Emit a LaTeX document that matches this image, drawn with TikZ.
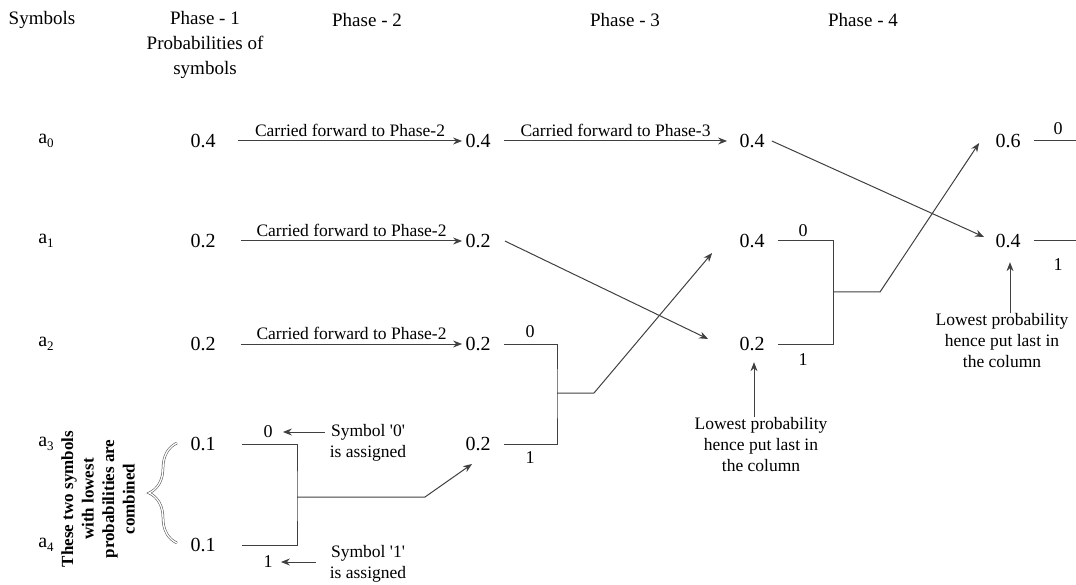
\documentclass[tikz,border=0pt]{standalone}
\usepackage{fontspec}
\setmainfont{Liberation Serif}
\usetikzlibrary{arrows.meta,decorations.pathreplacing}

\tikzset{every picture/.style={line width=0.75pt}}
\tikzset{
  prob/.style={font=\fontsize{20}{24}\selectfont, inner sep=1pt},
  head/.style={font=\fontsize{19}{25}\selectfont, align=center, inner sep=0pt},
  note/.style={font=\fontsize{17.5}{21}\selectfont, align=center, inner sep=0pt},
  bit/.style={font=\fontsize{18}{20}\selectfont, inner sep=0pt},
  wire/.style={draw=black!75, line width=1pt},
  arr/.style={wire, -{Stealth[length=9pt,width=7pt]}},
}
\newcommand{\asym}[1]{a\raisebox{-0.5ex}{\fontsize{13}{13}\selectfont #1}}

\begin{document}
\begin{tikzpicture}[x=1pt,y=1pt,yscale=-1,xscale=1]
\useasboundingbox (0,0) rectangle (1076,585);

% Text Node: headers
\node[head] (hsym) at (42,20) {Symbols};
\node[head] (hph1) at (205,45) {Phase - 1\\Probabilities of\\symbols};
\node[head] (hph2) at (367,20) {Phase - 2};
\node[head] (hph3) at (625,20) {Phase - 3};
\node[head] (hph4) at (863,20) {Phase - 4};

% Text Node: symbols
\node[prob] (a0) at (46,141) {\asym{0}};
\node[prob] (a1) at (46,241) {\asym{1}};
\node[prob] (a2) at (46,344) {\asym{2}};
\node[prob] (a3) at (46,444) {\asym{3}};
\node[prob] (a4) at (46,545) {\asym{4}};

% Text Node: phase 1
\node[prob] (p1a) at (203,141) {0.4};
\node[prob] (p1b) at (203,241) {0.2};
\node[prob] (p1c) at (203,344) {0.2};
\node[prob] (p1d) at (203,444) {0.1};
\node[prob] (p1e) at (203,545) {0.1};
% Text Node: phase 2
\node[prob] (p2a) at (478,141) {0.4};
\node[prob] (p2b) at (478,241) {0.2};
\node[prob] (p2c) at (478,344) {0.2};
\node[prob] (p2d) at (478,444) {0.2};
% Text Node: phase 3
\node[prob] (p3a) at (752,141) {0.4};
\node[prob] (p3b) at (752,241) {0.4};
\node[prob] (p3c) at (752,344) {0.2};
% Text Node: phase 4
\node[prob] (p4a) at (1008,141) {0.6};
\node[prob] (p4b) at (1008,241) {0.4};

% Straight Lines: carried forward
\draw[arr] ([xshift=21pt]p1a.east) -- ([xshift=-2pt]p2a.west)
  node[midway, above=4pt, note] {Carried forward to Phase-2};
\draw[arr] ([xshift=24pt]p1b.east) -- ([xshift=-2pt]p2b.west)
  node[midway, above=4pt, note] {Carried forward to Phase-2};
\draw[arr] ([xshift=24pt]p1c.east) -- ([xshift=-2pt]p2c.west)
  node[midway, above=4pt, note] {Carried forward to Phase-2};
\draw[arr] ([xshift=12pt]p2a.east) -- ([xshift=-11pt]p3a.west)
  node[midway, above=4pt, note] {Carried forward to Phase-3};
\draw[arr] ([xshift=13pt]p2b.east) -- ([shift={(-30,-5)}]p3c.west);
\draw[arr] ([xshift=6pt]p3a.east) -- ([shift={(-10,-4)}]p4b.west);

% Shape: phase 1 merge
\coordinate (m1) at (297,497);
\coordinate (k1) at (425,497);
\draw[wire] ([xshift=25pt]p1d.east) -| (m1) |- ([xshift=25pt]p1e.east);
\draw[arr] (m1) -- (k1) -- ([shift={(-6,20)}]p2d.center);
\node[bit] (b1t) at (268,432) {0};
\node[bit] (b1b) at (268,562) {1};
\node[note] (n0) at (368,443) {Symbol \textquotesingle 0\textquotesingle\\is assigned};
\node[note] (n1) at (368,564) {Symbol \textquotesingle 1\textquotesingle\\is assigned};
\draw[arr] ([xshift=52pt]b1t.east) -- ([xshift=10pt]b1t.east);
\draw[arr] ([xshift=43pt]b1b.east) -- ([xshift=8pt]b1b.east);

% Brace and its text
\draw[draw=black!75, line width=0.5pt, double, double distance=1.4pt,
  decorate, decoration={brace, amplitude=28pt}] (177,543) -- (177,443);
\node[font=\bfseries\fontsize{17}{20.5}\selectfont, align=center, rotate=90, inner sep=0pt]
  (comb) at (98,499) {These two symbols\\with lowest\\probabilities are\\combined};

% Shape: phase 2 merge
\coordinate (m2) at (557,393);
\coordinate (k2) at (594,393);
\draw[wire] ([xshift=12pt]p2c.east) -| (m2) |- ([xshift=12pt]p2d.east);
\draw[arr] (m2) -- (k2) -- ([shift={(-26,12)}]p3b.west);
\node[bit] (b2t) at (530,332) {0};
\node[bit] (b2b) at (530,458) {1};

% Shape: phase 3 merge
\coordinate (m3) at (833,292);
\coordinate (k3) at (880,292);
\draw[wire] ([xshift=12pt]p3b.east) -| (m3) |- ([xshift=12pt]p3c.east);
\draw[arr] (m3) -- (k3) -- ([shift={(-15,2)}]p4a.west);
\node[bit] (b3t) at (803,231) {0};
\node[bit] (b3b) at (803,360) {1};

% Shape: phase 4
\draw[wire] ([xshift=12pt]p4a.east) -- ++(43,0);
\draw[wire] ([xshift=12pt]p4b.east) -- ++(43,0);
\node[bit] (b4t) at (1058,129) {0};
\node[bit] (b4b) at (1058,265) {1};

% Text Node: lowest probability notes
\node[note] (low3) at (761,445) {Lowest probability\\hence put last in\\the column};
\draw[arr] ([xshift=2pt]p3c.south |- low3.north) -- ([xshift=2pt,yshift=10pt]p3c.south);
\node[note] (low4) at (1002,341) {Lowest probability\\hence put last in\\the column};
\draw[arr] ([xshift=2pt]p4b.south |- low4.north) -- ([xshift=2pt,yshift=13pt]p4b.south);

\end{tikzpicture}
\end{document}
